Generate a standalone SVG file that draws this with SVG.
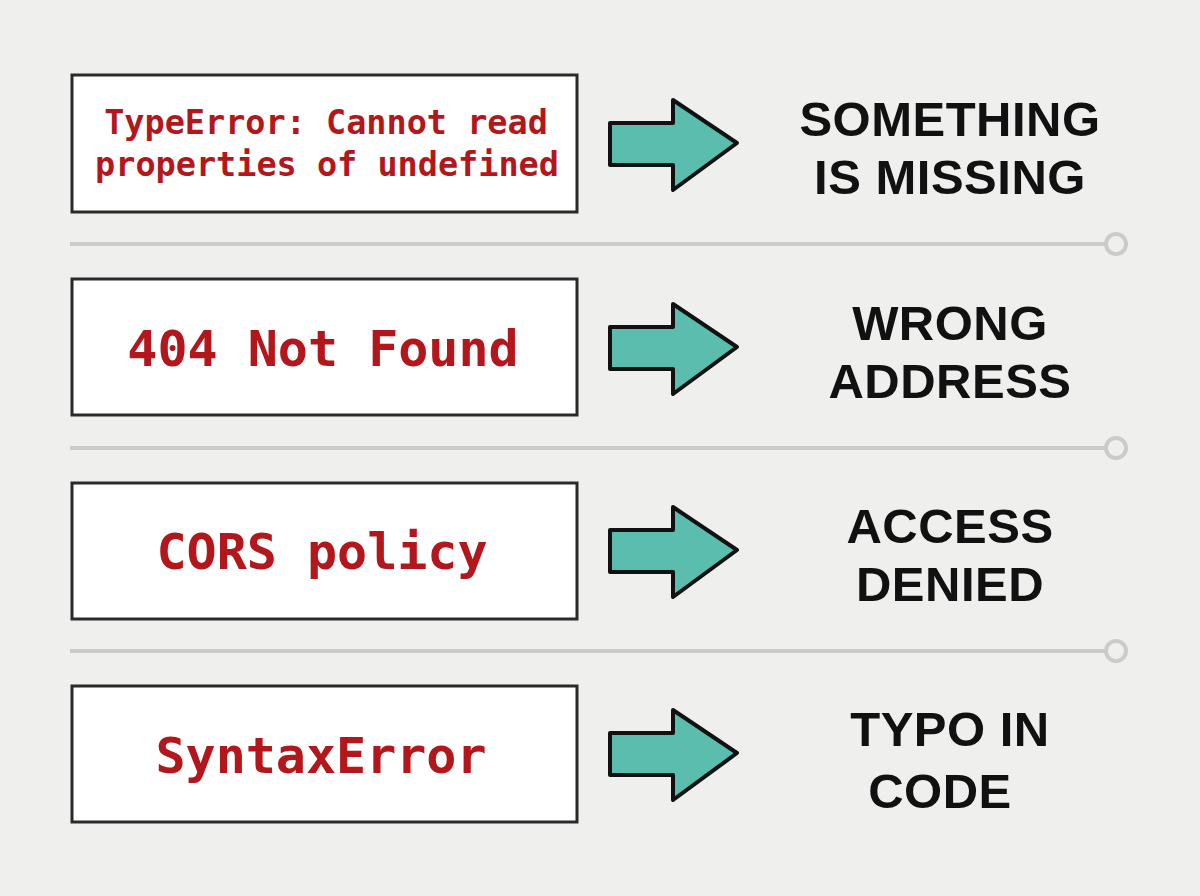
<svg xmlns="http://www.w3.org/2000/svg" xmlns:xlink="http://www.w3.org/1999/xlink" width="1200" height="896" viewBox="0 0 1200 896">
<style>
.box{fill:#ffffff;stroke:#2a2a2a;stroke-width:3}
.err{font-family:"DejaVu Sans Mono","Liberation Mono",monospace;font-weight:bold;fill:#b3171c;text-anchor:middle}
.lbl{font-family:"Liberation Sans","DejaVu Sans",sans-serif;font-weight:bold;font-size:49px;letter-spacing:0.5px;fill:#111111;text-anchor:middle}
.sep{stroke:#cbcbcb;stroke-width:4;fill:none}
.arrow{fill:#5bbdae;stroke:#111111;stroke-width:4;stroke-linejoin:round}
</style>
<defs>
<path id="arr" class="arrow" d="M610,-20 L673,-20 L673,-43 L737,0 L673,47 L673,22 L610,22 Z"/>
</defs>
<rect width="1200" height="896" fill="#efefee"/>
<g id="separators">
<line class="sep" x1="70" y1="244" x2="1106" y2="244"/><circle class="sep" cx="1116" cy="244" r="10"/>
<line class="sep" x1="70" y1="448" x2="1106" y2="448"/><circle class="sep" cx="1116" cy="448" r="10"/>
<line class="sep" x1="70" y1="651" x2="1106" y2="651"/><circle class="sep" cx="1116" cy="651" r="10"/>
</g>
<g id="node1">
<rect class="box" x="72" y="75" width="505" height="137"/>
<text class="err" x="326" y="134" font-size="33.5">TypeError: Cannot read</text>
<text class="err" x="327" y="176" font-size="33.5">properties of undefined</text>
</g>
<g id="node2">
<rect class="box" x="72" y="279" width="505" height="136"/>
<text class="err" x="323" y="366" font-size="50">404 Not Found</text>
</g>
<g id="node3">
<rect class="box" x="72" y="483" width="505" height="136"/>
<text class="err" x="322" y="569" font-size="50">CORS policy</text>
</g>
<g id="node4">
<rect class="box" x="72" y="686" width="505" height="136"/>
<text class="err" x="321" y="773" font-size="50">SyntaxError</text>
</g>
<g id="connectors">
<use xlink:href="#arr" transform="translate(0,143)"/>
<use xlink:href="#arr" transform="translate(0,347)"/>
<use xlink:href="#arr" transform="translate(0,550)"/>
<use xlink:href="#arr" transform="translate(0,753)"/>
</g>
<g id="label1"><text class="lbl" x="950" y="136">SOMETHING</text><text class="lbl" x="950" y="194">IS MISSING</text></g>
<g id="label2"><text class="lbl" x="950" y="340">WRONG</text><text class="lbl" x="950" y="398">ADDRESS</text></g>
<g id="label3"><text class="lbl" x="950" y="543">ACCESS</text><text class="lbl" x="950" y="601">DENIED</text></g>
<g id="label4"><text class="lbl" x="950" y="746">TYPO IN</text><text class="lbl" x="940" y="808">CODE</text></g>
</svg>
